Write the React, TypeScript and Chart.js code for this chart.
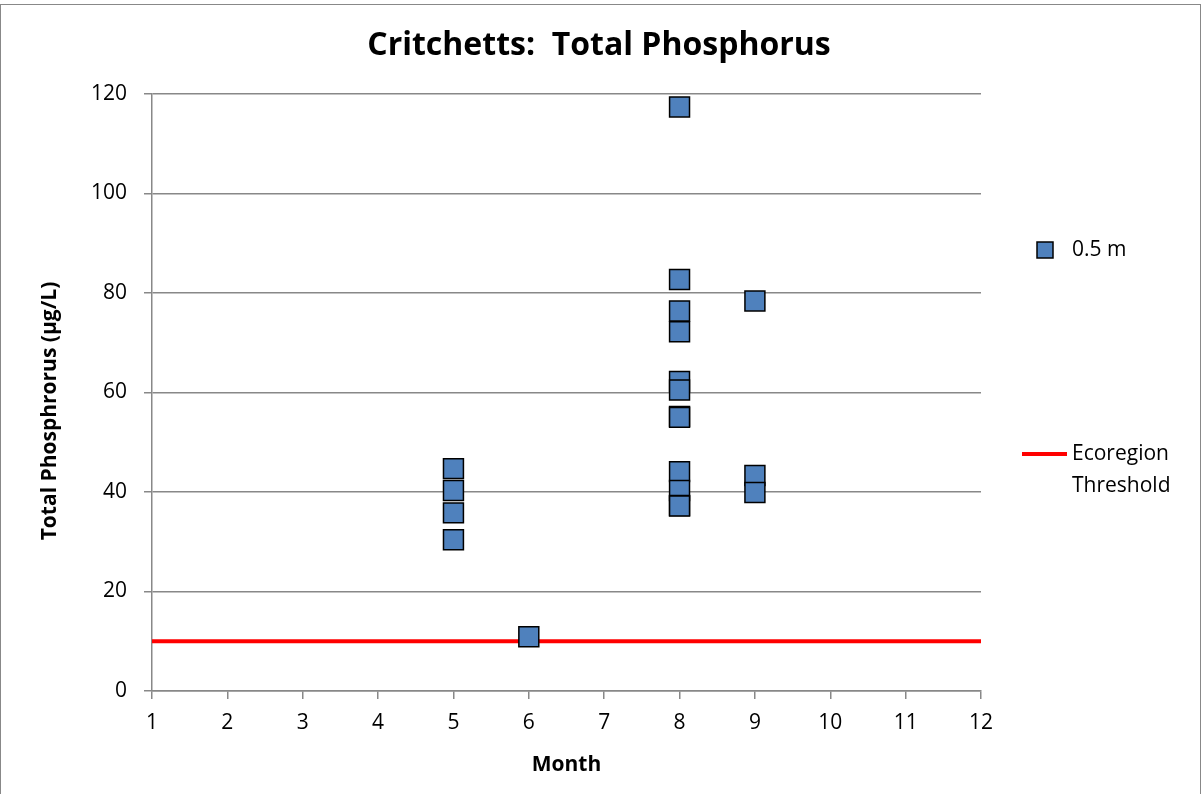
import React, { useEffect, useRef } from "react";
import { Chart, registerables } from "chart.js";

Chart.register(...registerables);

const months: number[] = [5, 5, 5, 5, 6, 8, 8, 8, 8, 8, 8, 8, 8, 8, 8, 8, 8, 9, 9, 9];
const phosphorus: number[] = [44.7, 40.3, 35.8, 30.4, 10.9, 117.4, 82.7, 76.4, 72.2, 62.2, 60.5, 55.2, 55.0, 44.1, 40.3, 37.3, 37.2, 78.4, 43.3, 39.9];
const thresholdMonths: number[] = [1, 12];
const thresholdValues: number[] = [10, 10];
const xTicks: number[] = [1, 2, 3, 4, 5, 6, 7, 8, 9, 10, 11, 12];
const yTicks: number[] = [0, 20, 40, 60, 80, 100, 120];

const FONT = "'Open Sans', sans-serif";

export default function App() {
  const ref = useRef<HTMLCanvasElement | null>(null);
  useEffect(() => {
    document.body.style.margin = "0";
    const canvas = ref.current!;
    const textPlugin = {
      id: "texts",
      afterDraw(chart: any) {
        const ctx = chart.ctx as CanvasRenderingContext2D;
        const area = chart.chartArea;
        ctx.save();
        ctx.fillStyle = "#000";
        ctx.textAlign = "center";
        ctx.textBaseline = "middle";
        ctx.font = `bold 32px ${FONT}`;
        ctx.fillText("Critchetts:  Total Phosphorus", 599, 46);
        ctx.font = `bold 21px ${FONT}`;
        ctx.fillText("Month", (area.left + area.right) / 2, 765);
        ctx.save();
        ctx.translate(50, 411);
        ctx.rotate(-Math.PI / 2);
        ctx.fillText("Total Phosphrorus (\u00b5g/L)", 0, 0);
        ctx.restore();
        // legend
        ctx.fillStyle = "#4F81BD";
        ctx.strokeStyle = "#000";
        ctx.lineWidth = 1.5;
        ctx.fillRect(1037, 242, 16, 16);
        ctx.strokeRect(1037, 242, 16, 16);
        ctx.strokeStyle = "#FF0000";
        ctx.lineWidth = 4;
        ctx.beginPath();
        ctx.moveTo(1022, 454);
        ctx.lineTo(1067, 454);
        ctx.stroke();
        ctx.fillStyle = "#000";
        ctx.textAlign = "left";
        ctx.font = `21px ${FONT}`;
        ctx.fillText("0.5 m", 1072, 250);
        ctx.fillText("Ecoregion", 1072, 454);
        ctx.fillText("Threshold", 1072, 486);
        ctx.restore();
      },
    };
    const chart = new Chart(canvas, {
      type: "scatter",
      data: {
        datasets: [
          {
            label: "0.5 m",
            data: months.map((m, i) => ({ x: m, y: phosphorus[i] })),
            pointStyle: "rect",
            pointRadius: 14.1,
            pointHoverRadius: 14.1,
            backgroundColor: "#4F81BD",
            borderColor: "#000000",
            borderWidth: 1.5,
            order: 0,
          },
          {
            type: "line",
            label: "Ecoregion Threshold",
            data: thresholdMonths.map((m, i) => ({ x: m, y: thresholdValues[i] })),
            borderColor: "#FF0000",
            borderWidth: 4,
            pointRadius: 0,
            showLine: true,
            order: 1,
          } as any,
        ],
      },
      options: {
        animation: false,
        responsive: false,
        maintainAspectRatio: false,
        layout: { padding: { left: 0, top: 94, right: 222, bottom: 0 } },
        plugins: { legend: { display: false }, tooltip: { enabled: false }, title: { display: false } },
        scales: {
          x: {
            type: "linear",
            min: 1,
            max: 12,
            afterBuildTicks: (s: any) => {
              s.ticks = xTicks.map((v) => ({ value: v }));
            },
            afterFit: (s: any) => {
              s.height = 103;
            },
            grid: { display: true, drawOnChartArea: false, drawTicks: true, tickLength: 8, color: "#888888", lineWidth: 1.5 },
            border: { display: true, color: "#888888", width: 1.5 },
            ticks: { color: "#000", font: { family: FONT, size: 21 }, padding: 11, maxRotation: 0 },
          },
          y: {
            type: "linear",
            min: 0,
            max: 120,
            afterBuildTicks: (s: any) => {
              s.ticks = yTicks.map((v) => ({ value: v }));
            },
            afterFit: (s: any) => {
              s.width = 152;
            },
            grid: { display: true, drawOnChartArea: true, drawTicks: true, tickLength: 8, color: "#888888", lineWidth: 1.5 },
            border: { display: true, color: "#888888", width: 1.5 },
            ticks: { color: "#000", font: { family: FONT, size: 21 }, padding: 17 },
          },
        },
      },
      plugins: [textPlugin],
    });
    return () => chart.destroy();
  }, []);
  return (
    <div style={{ position: "absolute", left: 0, top: 0, width: 1203, height: 794, background: "#fff", overflow: "hidden" }}>
      <canvas ref={ref} width={1203} height={794} style={{ position: "absolute", left: 0, top: 0 }} />
      <div style={{ position: "absolute", left: 0, top: 4, width: 1201, height: 800, border: "1.5px solid #888", boxSizing: "border-box", pointerEvents: "none" }} />
    </div>
  );
}
